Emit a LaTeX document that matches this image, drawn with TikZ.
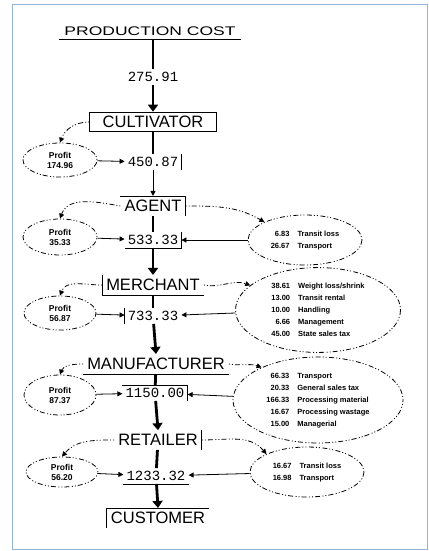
\documentclass[tikz,border=0pt]{standalone}
\usepackage{fontspec}
\setmainfont{Liberation Sans}
\newfontfamily\pricefont{Liberation Mono}
\usetikzlibrary{shapes,arrows.meta}
\definecolor{framecol}{RGB}{150,180,215}
\tikzset{
  heading/.style={font=\fontsize{16.5}{18}\selectfont,inner xsep=4pt,inner ysep=4pt},
  price/.style={font=\pricefont\fontsize{14}{16}\selectfont,inner sep=3pt},
  dotdash/.style={dash pattern=on 1pt off 2pt on 1pt off 2pt on 5pt off 2.5pt},
  profit/.style={ellipse,draw,dotdash,line width=0.8pt,inner sep=0pt,align=center,font=\bfseries\fontsize{8.5}{10}\selectfont},
  costs/.style={ellipse,draw,dotdash,line width=0.8pt,inner sep=0pt,font=\bfseries\fontsize{7.5}{12}\selectfont},
  boxside/.style={line width=0.9pt},
  mainline/.style={line width=2.8pt},
  mainarrow/.style={line width=2.8pt,-{Triangle[length=7pt,width=10pt]}},
  feed/.style={line width=0.8pt,-{Triangle[length=5pt,width=5pt]}},
  share/.style={dotdash,line width=0.8pt,-{Triangle[length=5pt,width=5pt]}}
}
\newcommand{\costlist}[1]{\begin{tabular}{@{}r@{\hspace{8pt}}l@{}}#1\end{tabular}}

\begin{document}
\begin{tikzpicture}[x=1pt,y=1pt]
\useasboundingbox (0,0) rectangle (428,-551);
\draw[framecol,line width=0.8pt] (12,-4) rectangle (427,-549);

\node[heading,font=\fontsize{12.5}{14}\selectfont,xscale=1.4,transform shape] (0) at (150,-31) {PRODUCTION COST};
\node[price] (1) at (153,-77) {275.91};
\node[heading,draw,line width=0.9pt,minimum width=127pt] (2) at (153,-122) {CULTIVATOR};
\node[profit,minimum width=74pt,minimum height=34pt] (3) at (60,-160) {Profit\\174.96};
\node[price] (4) at (153,-162) {450.87};

\node[heading] (5) at (153,-206) {AGENT};
\node[profit,minimum width=74pt,minimum height=36pt] (6) at (60,-237) {Profit\\35.33};
\node[costs,minimum width=114pt,minimum height=50pt] (7) at (305,-240) {\costlist{6.83 & Transit loss\\ 26.67 & Transport}};
\node[price] (8) at (153,-240) {533.33};

\node[heading] (9) at (153,-285) {MERCHANT};
\node[profit,minimum width=72pt,minimum height=34pt] (10) at (60,-313) {Profit\\56.87};
\node[costs,minimum width=165pt,minimum height=80pt] (11) at (318,-310) {\costlist{38.61 & Weight loss/shrink\\ 13.00 & Transit rental\\ 10.00 & Handling\\ 6.66 & Management\\ 45.00 & State sales tax}};
\node[price] (12) at (153,-316) {733.33};

\node[heading] (13) at (156,-364) {MANUFACTURER};
\node[profit,minimum width=72pt,minimum height=40pt] (14) at (60,-395) {Profit\\87.37};
\node[costs,minimum width=170pt,minimum height=86pt] (15) at (318,-400) {\costlist{66.33 & Transport\\ 20.33 & General sales tax\\ 166.33 & Processing material\\ 16.67 & Processing wastage\\ 15.00 & Managerial}};
\node[price] (16) at (155,-393) {1150.00};

\node[heading] (17) at (158,-440) {RETAILER};
\node[profit,minimum width=72pt,minimum height=30pt] (18) at (62,-472) {Profit\\56.20};
\node[costs,minimum width=114pt,minimum height=50pt] (19) at (307,-472) {\costlist{16.67 & Transit loss\\ 16.98 & Transport}};
\node[price] (20) at (156,-476) {1233.32};

\node[heading] (21) at (158,-518) {CUSTOMER};

% partial boxes
\draw[boxside] (0.south west) -- (0.south east);
\draw[boxside] (4.north east) -- (4.south east);
\draw[boxside] (5.north west) -- (5.north east) -- (5.south east);
\draw[boxside] (8.north east) -- (8.south east) -- (8.south west);
\draw[boxside] (9.north west) -- (9.south west) -- (9.south east);
\draw[boxside] (12.north west) -- (12.south west);
\draw[boxside] (13.south west) -- (13.south east);
\draw[boxside] (16.south east) -- (16.north east) -- (16.north west);
\draw[boxside] (17.north east) -- (17.south east);
\draw[boxside] (20.south west) -- (20.south east);
\draw[boxside] (21.south west) -- (21.north west) -- (21.north east);

% main chain
\path [mainline] (0.south -| 1) edge (1.north);
\path [mainarrow] (1) edge (2.north);
\path [mainline] (2) edge (4);
\path [feed] (4) edge (5.north);
\path [mainline] (5) edge (8);
\path [mainarrow] (8) edge (9.north);
\path [mainline] (9) edge (12);
\path [mainarrow] (12) edge (13.north);
\path [mainline] (13) edge (16);
\path [mainarrow] (16) edge (17.north);
\path [mainline] (17) edge (20);
\path [mainarrow] (20) edge (21.north);

% shares
\path [share] (2.west) edge[out=180,in=70] (3.north);
\path [share] (5.west) edge[out=170,in=70] (6.north);
\path [share] (5.east) edge[out=0,in=150] (7.north west);
\path [share] (9.west) edge[out=180,in=70] (10.north);
\path [share] (9.east) edge[out=-10,in=160] (11.160);
\path [share] (13.west) edge[out=180,in=70] (14.north);
\path [share] (13.east) edge[out=-10,in=160] (15.150);
\path [share] (17.west) edge[out=180,in=50] (18.north);
\path [share] (17.east) edge[out=0,in=130] (19.north west);

% into prices
\path [feed] (3) edge (4);
\path [feed] (6) edge (8);
\path [feed] (7) edge (8);
\path [feed] (10) edge (12);
\path [feed] (11) edge (12);
\path [feed] (14) edge (16);
\path [feed] (15) edge (16);
\path [feed] (18) edge (20);
\path [feed] (19) edge (20);
\end{tikzpicture}
\end{document}
